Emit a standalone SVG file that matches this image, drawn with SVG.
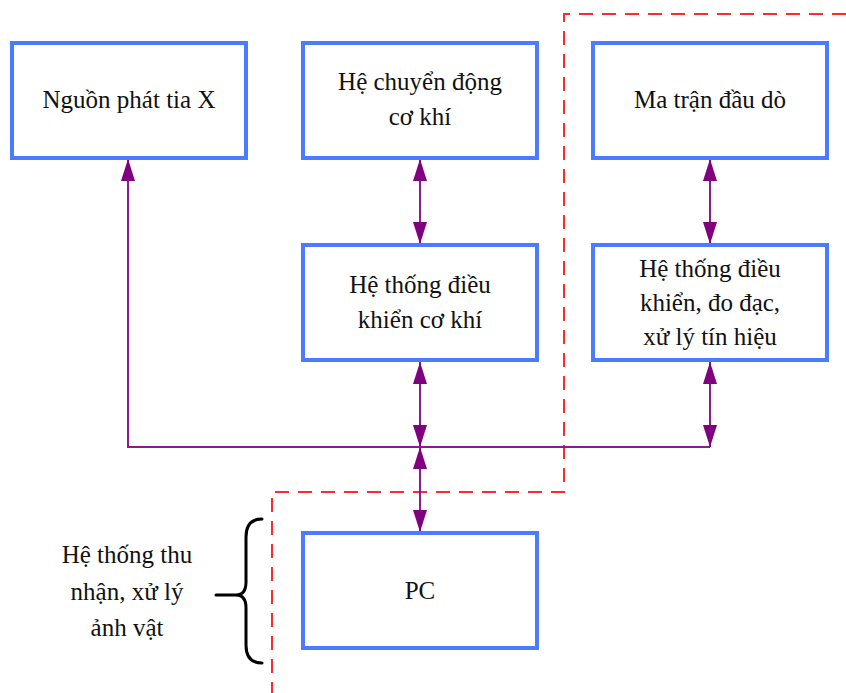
<svg xmlns="http://www.w3.org/2000/svg" xmlns:xlink="http://www.w3.org/1999/xlink" width="846" height="693" viewBox="0 0 846 693">
  <defs>
    <!-- shared node frame -->
    <rect id="nodeBox" width="234" height="115" fill="#ffffff" stroke="#4a7cff" stroke-width="4"/>
    <marker id="tip" viewBox="0 0 22 14" refX="22" refY="7" markerWidth="22" markerHeight="14" markerUnits="userSpaceOnUse" orient="auto-start-reverse">
      <path d="M0,0 L22,7 L0,14 Z" fill="#800080"/>
    </marker>
  </defs>

  <rect width="846" height="693" fill="#ffffff"/>

  <!-- dashed zone outline -->
  <path d="M846,14 H564 V492 H272 V693" fill="none" stroke="#ff2a2a" stroke-width="2" stroke-dasharray="14 9"/>

  <!-- connectors -->
  <g id="connectors" fill="none" stroke="#8b1a93" stroke-width="2">
    <path d="M420,159 V244" marker-start="url(#tip)" marker-end="url(#tip)"/>
    <path d="M710,159 V244" marker-start="url(#tip)" marker-end="url(#tip)"/>
    <path d="M420,362 V447" marker-start="url(#tip)" marker-end="url(#tip)"/>
    <path d="M710,362 V447" marker-start="url(#tip)" marker-end="url(#tip)"/>
    <path d="M420,447 V532" marker-start="url(#tip)" marker-end="url(#tip)"/>
    <path d="M710,447 H128 V159" marker-end="url(#tip)"/>
  </g>

  <g font-family="Liberation Serif" font-size="25" fill="#111111" text-anchor="middle">
    <g id="xray-source">
      <use href="#nodeBox" xlink:href="#nodeBox" x="12" y="43"/>
      <text x="129" y="108">Nguồn phát tia X</text>
    </g>

    <g id="motion-system">
      <use href="#nodeBox" xlink:href="#nodeBox" x="303" y="43"/>
      <text x="420" y="90">Hệ chuyển động</text>
      <text x="420" y="125">cơ khí</text>
    </g>

    <g id="detector-array">
      <use href="#nodeBox" xlink:href="#nodeBox" x="593" y="43"/>
      <text x="710" y="108">Ma trận đầu dò</text>
    </g>

    <g id="motion-control">
      <use href="#nodeBox" xlink:href="#nodeBox" x="303" y="245"/>
      <text x="420" y="293">Hệ thống điều</text>
      <text x="420" y="328">khiển cơ khí</text>
    </g>

    <g id="signal-control">
      <use href="#nodeBox" xlink:href="#nodeBox" x="593" y="245"/>
      <text x="710" y="277">Hệ thống điều</text>
      <text x="710" y="311">khiển, đo đạc,</text>
      <text x="710" y="345">xử lý tín hiệu</text>
    </g>

    <g id="pc">
      <use href="#nodeBox" xlink:href="#nodeBox" x="303" y="533"/>
      <text x="420" y="599">PC</text>
    </g>

    <g id="acquisition-group">
      <path d="M262,519 Q246,519 246,537 V582 Q246,595 236,595 Q246,595 246,608 V645 Q246,663 262,663 M216,595 H240" fill="none" stroke="#000000" stroke-width="3" stroke-linecap="round"/>
      <text x="127" y="563">Hệ thống thu</text>
      <text x="127" y="600">nhận, xử lý</text>
      <text x="127" y="636">ảnh vật</text>
    </g>
  </g>
</svg>
